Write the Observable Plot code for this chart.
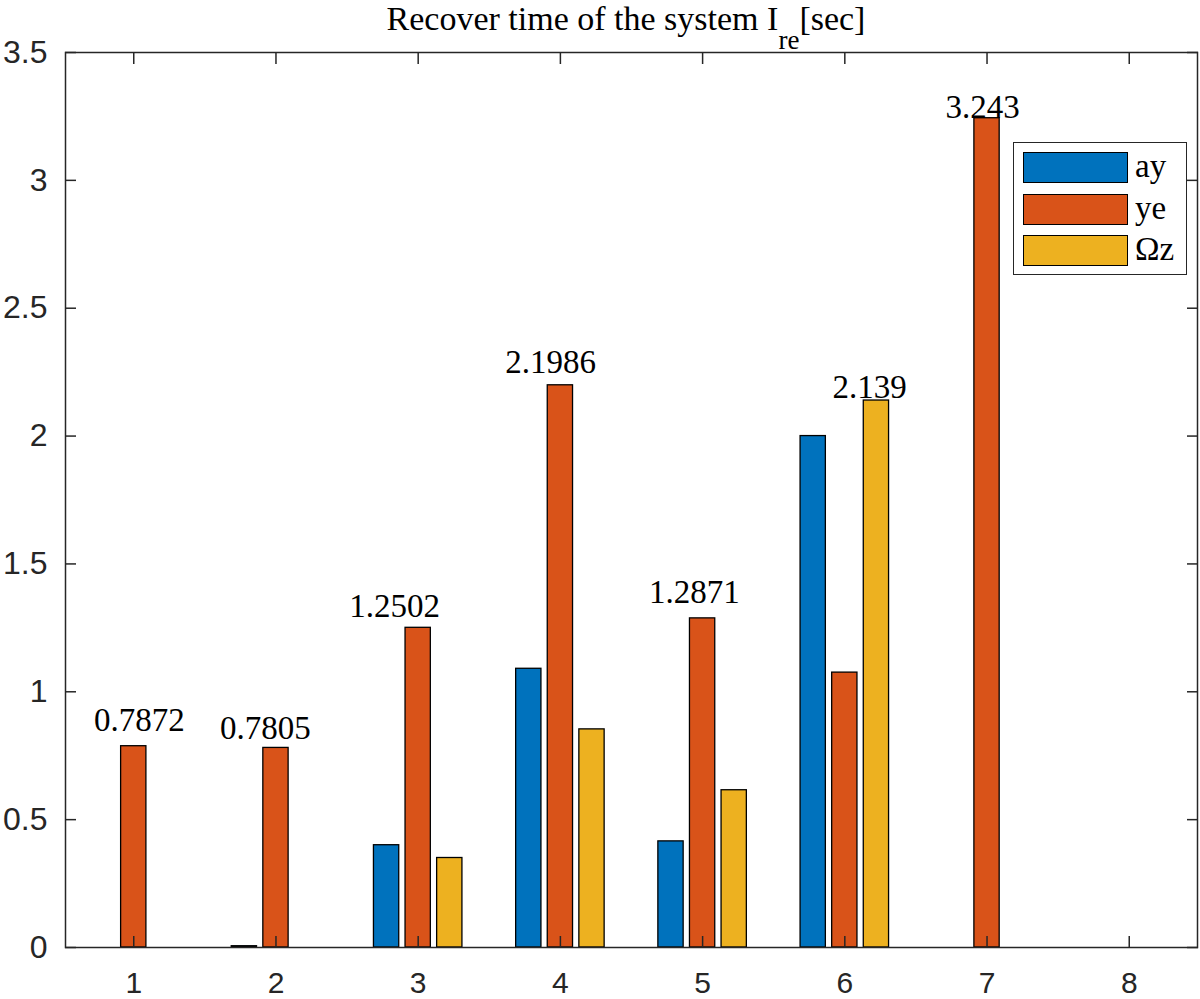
<!DOCTYPE html>
<html><head><meta charset="utf-8">
<script src="https://cdn.jsdelivr.net/npm/d3@7"></script>
<script src="https://cdn.jsdelivr.net/npm/@observablehq/plot@0.6"></script>
<style>
body{margin:0;background:#fff}
#wrap{position:relative;width:1200px;height:999px;overflow:hidden;background:#fff}
#chart{position:absolute;left:0;top:0}
#title{position:absolute;left:0;width:1252px;text-align:center;top:2px;font-family:"Liberation Serif","Times New Roman",serif;font-size:34px;line-height:1;color:#000;white-space:nowrap}
#title .sub{font-size:27px;position:relative;top:19px}
#legend{position:absolute;left:1013px;top:142px;width:172px;height:131px;border:1.5px solid #262626;background:#fff}
#legend .row{position:absolute;left:9px;height:31px;width:160px}
#legend .sw{position:absolute;left:0;top:0;width:103px;height:29px;border:1px solid #000}
#legend .lb{position:absolute;left:112px;top:-2px;font-family:"Liberation Serif","Times New Roman",serif;font-size:33px;line-height:33px;color:#000}
</style></head><body>
<div id="wrap">
<div id="chart"></div>
<div id="title">Recover time of the system I<span class="sub">re</span>[sec]</div>
<div id="legend"></div>
</div>
<script>
const categories = [1, 2, 3, 4, 5, 6, 7, 8];
const seriesNames = ["ay", "ye", "Ωz"];
const ay = [0, 0.005, 0.40, 1.09, 0.415, 2.00, 0, 0];
const ye = [0.7872, 0.7805, 1.2502, 2.1986, 1.2871, 1.075, 3.243, 0];
const oz = [0, 0, 0.35, 0.853, 0.615, 2.139, 0, 0];
const colors = ["#0072BD", "#D95319", "#EDB120"];
const yTicks = [0, 0.5, 1, 1.5, 2, 2.5, 3, 3.5];
const labelText = ["0.7872", "0.7805", "1.2502", "2.1986", "1.2871", "2.139", "3.243"];
const labelX = [1.04, 1.926, 2.834, 3.931, 4.943, 6.174, 6.969];
const labelY = [0.847, 0.816, 1.293, 2.248, 1.348, 2.150, 3.245];

const series = [ay, ye, oz];
const rows = [];
series.forEach((vals, s) => vals.forEach((v, i) => rows.push({cat: categories[i], s, name: seriesNames[s], value: v})));
const groupStep = 0.2222, barW = 0.1778;
const labels = labelText.map((t, i) => ({t, x: labelX[i], y: labelY[i]}));

const axisColor = "#262626";
const sans = "Liberation Sans, Arial, Helvetica, sans-serif";
const serif = "Liberation Serif, Times New Roman, serif";
const fmt = d => String(d);

const chart = Plot.plot({
  width: 1200,
  height: 999,
  marginLeft: 65,
  marginRight: 3,
  marginTop: 52,
  marginBottom: 52,
  x: {type: "linear", domain: [0.52, 8.48]},
  y: {domain: [0, 3.5]},
  color: {domain: seriesNames, range: colors},
  style: {background: "transparent"},
  marks: [
    Plot.rectY(rows, {
      x1: d => d.cat + (d.s - 1) * groupStep - barW / 2,
      x2: d => d.cat + (d.s - 1) * groupStep + barW / 2,
      y1: 0,
      y2: "value",
      fill: "name",
      stroke: "#000",
      strokeWidth: 1.3
    }),
    Plot.frame({stroke: axisColor, strokeWidth: 1.5}),
    Plot.axisY(yTicks, {anchor: "left", tickSize: 11, insetLeft: 11, fill: "none", stroke: axisColor, strokeWidth: 1.5}),
    Plot.axisY(yTicks, {anchor: "right", tickSize: 11, insetRight: 11, fill: "none", stroke: axisColor, strokeWidth: 1.5}),
    Plot.axisX(categories, {anchor: "bottom", tickSize: 11, insetBottom: 11, fill: "none", stroke: axisColor, strokeWidth: 1.5}),
    Plot.axisX(categories, {anchor: "top", tickSize: 11, insetTop: 11, fill: "none", stroke: axisColor, strokeWidth: 1.5}),
    Plot.axisY(yTicks, {anchor: "left", tickSize: 0, tickPadding: 18, tickFormat: fmt, fontSize: 32, fontFamily: sans, fill: axisColor, label: null}),
    Plot.axisX(categories, {anchor: "bottom", tickSize: 0, tickPadding: 24, tickFormat: fmt, fontSize: 30, fontFamily: sans, fill: axisColor, label: null}),
    Plot.text(labels, {x: "x", y: "y", text: "t", lineAnchor: "bottom", textAnchor: "middle", fontSize: 33, fontFamily: serif, fill: "#000"})
  ]
});
document.getElementById("chart").appendChild(chart);

const legend = document.getElementById("legend");
seriesNames.forEach((n, i) => {
  const row = document.createElement("div");
  row.className = "row";
  row.style.top = (9 + i * 41.5) + "px";
  const sw = document.createElement("div");
  sw.className = "sw";
  sw.style.background = colors[i];
  const lb = document.createElement("div");
  lb.className = "lb";
  lb.textContent = n;
  row.appendChild(sw);
  row.appendChild(lb);
  legend.appendChild(row);
});
</script>
</body></html>
